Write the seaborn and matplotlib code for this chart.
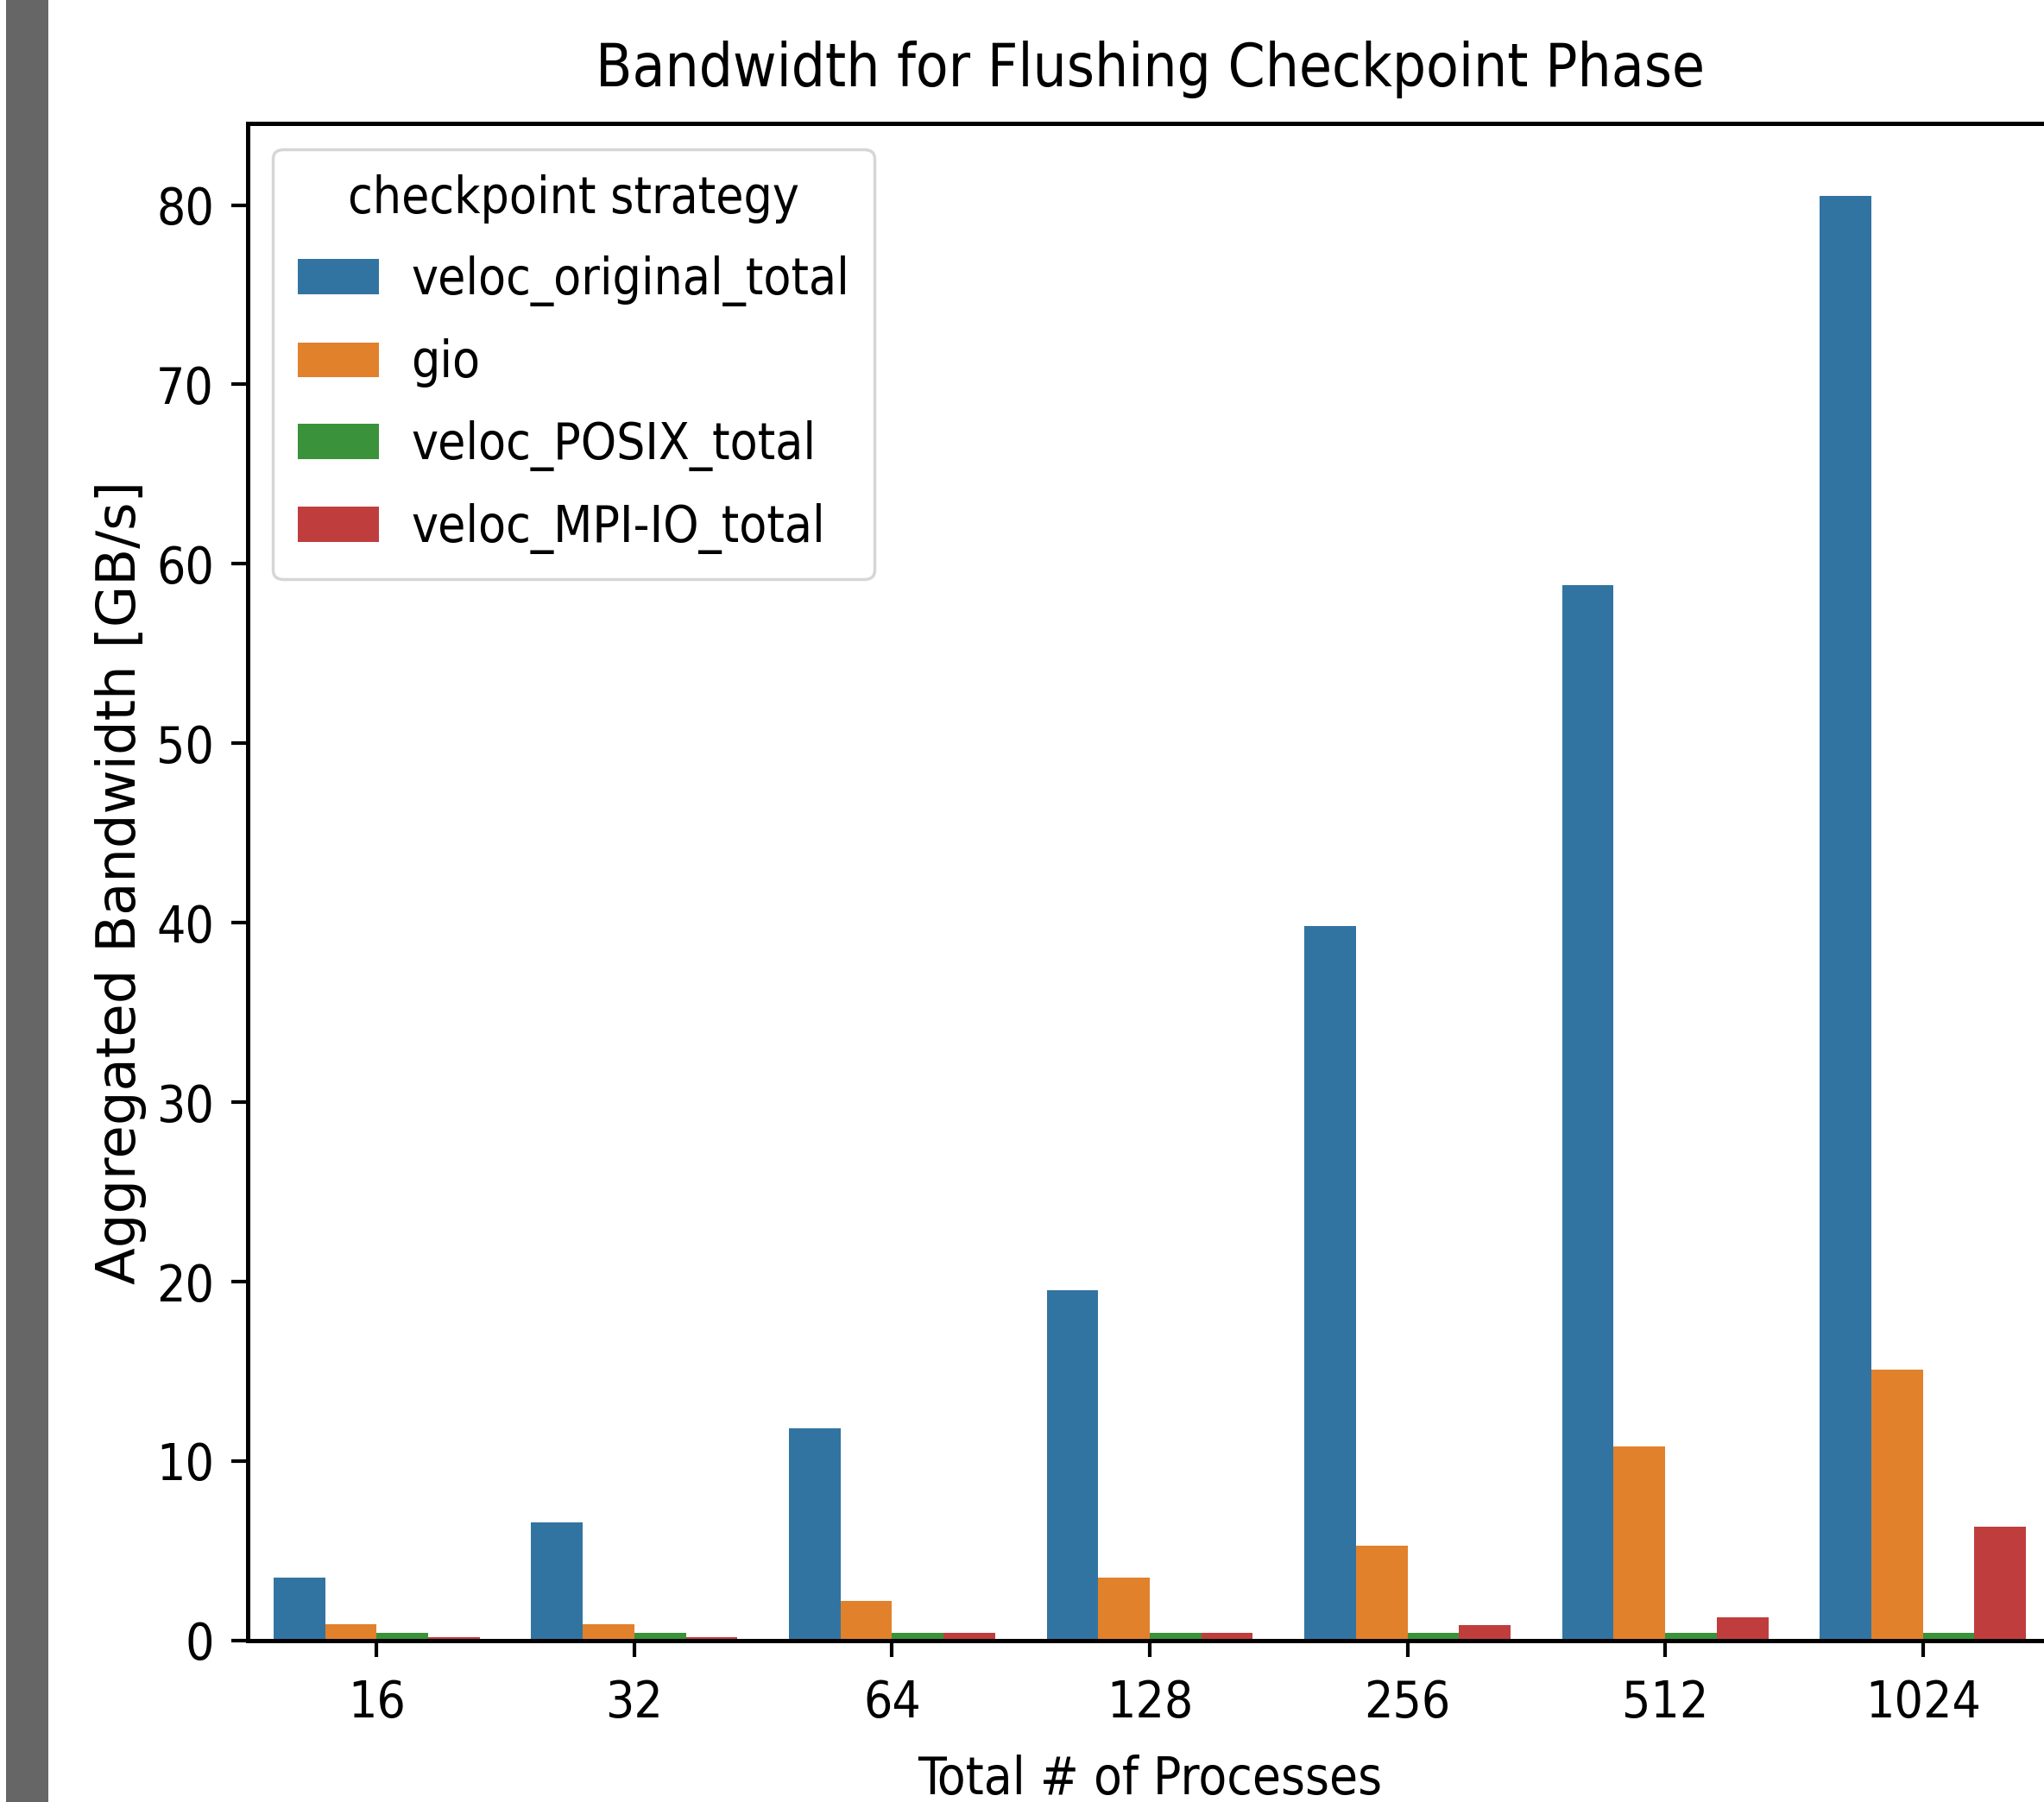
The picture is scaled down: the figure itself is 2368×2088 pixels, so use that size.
import matplotlib
matplotlib.use('Agg')
import matplotlib.pyplot as plt
import seaborn as sns
import pandas as pd
from matplotlib import font_manager as fm
from matplotlib.patches import Rectangle

# values
processes = ['16', '32', '64', '128', '256', '512', '1024']
strategies = ['veloc_original_total', 'gio', 'veloc_POSIX_total', 'veloc_MPI-IO_total']
veloc_original_total = [3.5, 6.6, 11.85, 19.5, 39.8, 58.8, 80.5]
gio = [0.9, 0.9, 2.2, 3.5, 5.3, 10.8, 15.1]
veloc_POSIX_total = [0.45, 0.45, 0.45, 0.45, 0.45, 0.45, 0.45]
veloc_MPI_IO_total = [0.2, 0.2, 0.45, 0.45, 0.85, 1.3, 6.35]

series = [veloc_original_total, gio, veloc_POSIX_total, veloc_MPI_IO_total]
rows = []
for name, vals in zip(strategies, series):
    for p, v in zip(processes, vals):
        rows.append({'processes': p, 'bandwidth': v, 'checkpoint strategy': name})
df = pd.DataFrame(rows)

# the reference text looks horizontally squeezed, use a condensed face if there is one
has_condensed = any(f.name == 'DejaVu Sans' and f.stretch in ('condensed', 'semi-condensed')
                    for f in fm.fontManager.ttflist)
plt.rcParams['font.family'] = ['DejaVu Sans']
if has_condensed:
    plt.rcParams['font.stretch'] = 'condensed'

fs = 42
fig = plt.figure(figsize=(23.68, 20.88), dpi=100)
fig.patches.append(Rectangle((7 / 2368, 0), 49 / 2368, 1, transform=fig.transFigure,
                             facecolor='#666666', edgecolor='none', zorder=-1))
ax = fig.add_axes([0.1212, 0.0896, 0.8826, 0.8417])

sns.barplot(data=df, x='processes', y='bandwidth', hue='checkpoint strategy',
            order=processes, hue_order=strategies, ax=ax)

ax.set_title('Bandwidth for Flushing Checkpoint Phase', fontsize=49.5, pad=31)
ax.set_xlabel('Total # of Processes', fontsize=43, labelpad=22)
# rotated label keeps its normal width in the reference
ax.set_ylabel('Aggregated Bandwidth [GB/s]', fontsize=45, labelpad=8,
              fontstretch='normal')
ax.tick_params(labelsize=fs, length=14, width=3, pad=14)
ax.tick_params(axis='x', pad=18)
for s in ax.spines.values():
    s.set_linewidth(3.6)

leg = ax.legend(title='checkpoint strategy', loc='upper left', fontsize=fs,
                title_fontsize=fs, handlelength=1.6, handletextpad=0.64,
                borderaxespad=0.5, labelspacing=0.64, borderpad=0.5)
leg.get_frame().set_linewidth(2.5)

plt.savefig('out.png', dpi=100)
